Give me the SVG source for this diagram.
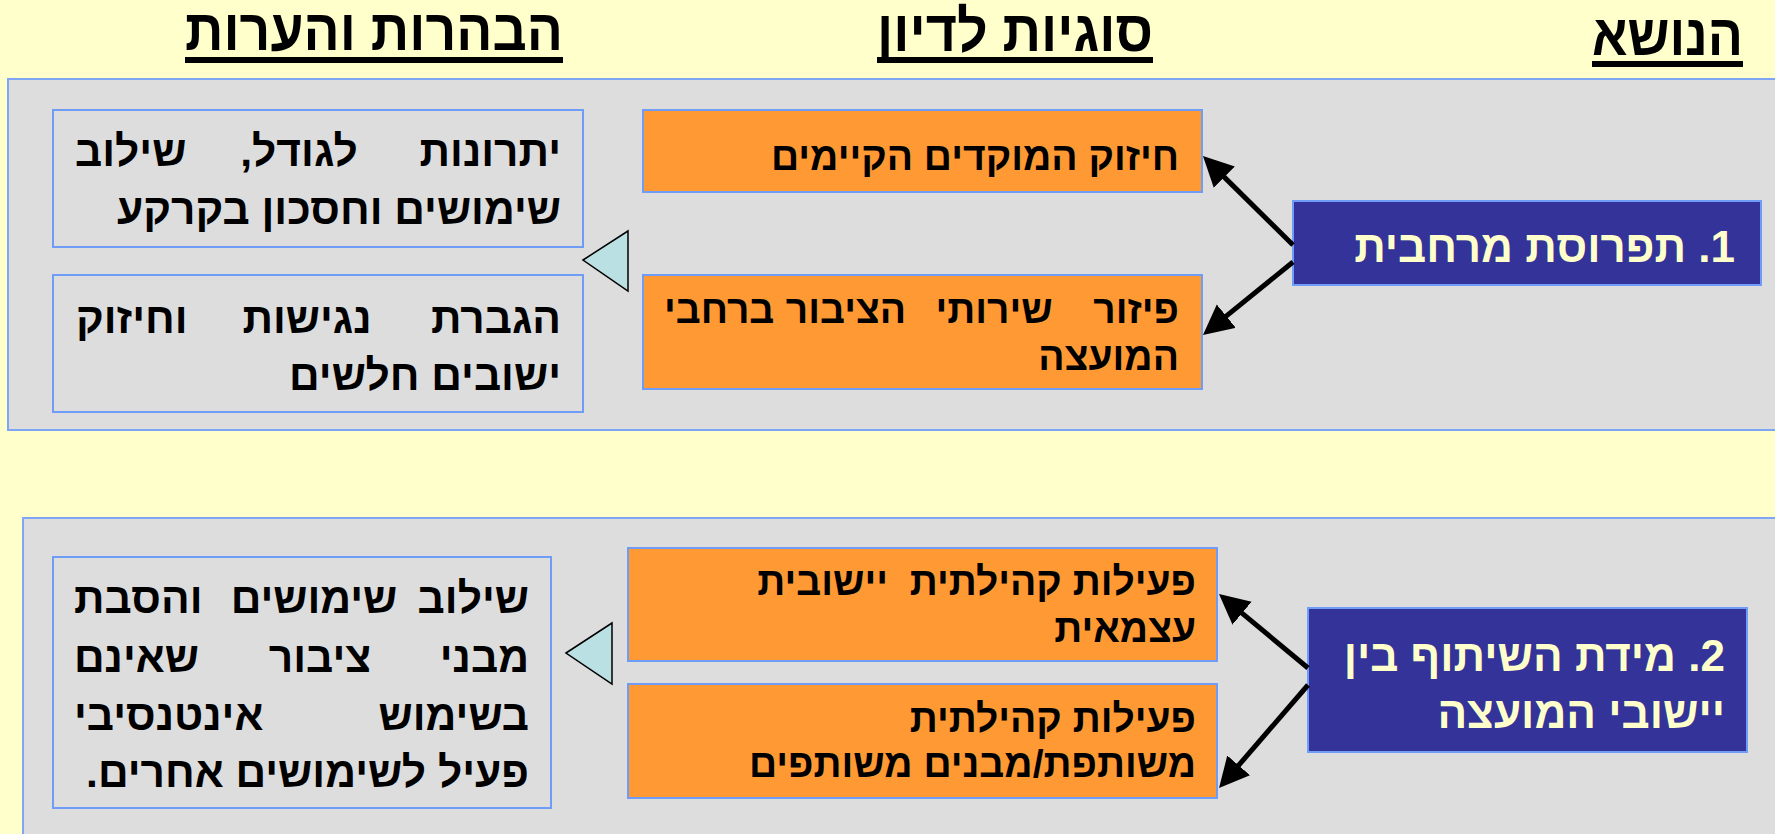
<svg xmlns="http://www.w3.org/2000/svg" width="1775" height="834" viewBox="0 0 1775 834">
<defs>
<style>
.bg{fill:#FFFFCC}
.panel{fill:#DDDDDD;stroke:#7FA6F5;stroke-width:2}
.note{fill:#DDDDDD;stroke:#6E9CF7;stroke-width:2}
.orange{fill:#FF9933;stroke:#6E9CF7;stroke-width:2}
.blue{fill:#333399;stroke:#6E9CF7;stroke-width:2}
.tri{fill:#BAE0E4;stroke:#000;stroke-width:1.5}
text{font-family:"Liberation Sans",Arial,"DejaVu Sans",sans-serif;font-weight:bold;direction:rtl;white-space:pre}
.t{font-size:42.5px;fill:#000}
.o{font-size:39px;fill:#000}
.w{font-size:44px;fill:#FFFFCC}
.h{font-size:58px;fill:#000}
.r{text-anchor:start}
.l{text-anchor:end}
.m{text-anchor:middle}
.conn line{stroke:#000;stroke-width:5}
</style>
<marker id="ah" markerUnits="userSpaceOnUse" markerWidth="32" markerHeight="32" refX="10" refY="15" orient="auto">
<path d="M0,0 L30,15 L0,30 Z" fill="#000"/>
</marker>
</defs>
<rect class="bg" x="0" y="0" width="1775" height="834"/>

<g id="headers">
<text class="h r" x="563" y="50" direction="rtl" textLength="378" lengthAdjust="spacingAndGlyphs">הבהרות והערות</text>
<rect x="185" y="57" width="378" height="6" fill="#000"/>
<text class="h r" x="1153" y="51" direction="rtl" textLength="276" lengthAdjust="spacingAndGlyphs">סוגיות לדיון</text>
<rect x="877" y="57" width="276" height="6" fill="#000"/>
<text class="h r" x="1743" y="55" direction="rtl" textLength="151" lengthAdjust="spacingAndGlyphs">הנושא</text>
<rect x="1592" y="61" width="151" height="6" fill="#000"/>
</g>

<rect id="panel1" class="panel" x="8" y="79" width="1790" height="351"/>
<rect id="panel2" class="panel" x="23" y="518" width="1775" height="340"/>

<g id="note1a">
<rect class="note" x="53" y="110" width="530" height="137"/>
<text class="t r" x="561" y="166" direction="rtl">יתרונות</text>
<text class="t m" x="299" y="166" direction="rtl">לגודל,</text>
<text class="t l" x="75" y="166" direction="rtl">שילוב</text>
<text class="t r" x="561" y="224" direction="rtl">שימושים וחסכון בקרקע</text>
</g>
<g id="note1b">
<rect class="note" x="53" y="275" width="530" height="137"/>
<text class="t r" x="561" y="333" direction="rtl">הגברת</text>
<text class="t m" x="307" y="333" direction="rtl">נגישות</text>
<text class="t l" x="76" y="333" direction="rtl">וחיזוק</text>
<text class="t r" x="561" y="390" direction="rtl">ישובים חלשים</text>
</g>
<g id="tri1"><polygon class="tri" points="583,260 628,231 628,291"/></g>
<g id="issue1a">
<rect class="orange" x="643" y="110" width="559" height="82"/>
<text class="o r" x="1179" y="170" direction="rtl">חיזוק המוקדים הקיימים</text>
</g>
<g id="issue1b">
<rect class="orange" x="643" y="275" width="559" height="114"/>
<text class="o r" x="1179" y="323" direction="rtl">פיזור</text>
<text class="o m" x="994" y="323" direction="rtl">שירותי</text>
<text class="o m" x="846" y="323" direction="rtl">הציבור</text>
<text class="o l" x="664" y="323" direction="rtl">ברחבי</text>
<text class="o r" x="1179" y="370" direction="rtl">המועצה</text>
</g>
<g id="topic1">
<rect class="blue" x="1293" y="201" width="468" height="84"/>
<text class="w r" x="1735" y="262" direction="rtl">1. תפרוסת מרחבית</text>
</g>

<g id="note2">
<rect class="note" x="53" y="557" width="498" height="251"/>
<text class="t r" x="529" y="613" direction="rtl">שילוב</text>
<text class="t m" x="314" y="613" direction="rtl">שימושים</text>
<text class="t l" x="74" y="613" direction="rtl">והסבת</text>
<text class="t r" x="529" y="672" direction="rtl">מבני</text>
<text class="t m" x="320" y="672" direction="rtl">ציבור</text>
<text class="t l" x="74" y="672" direction="rtl">שאינם</text>
<text class="t r" x="529" y="730" direction="rtl">בשימוש</text>
<text class="t l" x="74" y="730" direction="rtl">אינטנסיבי</text>
<text class="t r" x="529" y="787" direction="rtl">פעיל לשימושים אחרים.</text>
</g>
<g id="tri2"><polygon class="tri" points="566,653 612,623 612,684"/></g>
<g id="issue2a">
<rect class="orange" x="628" y="548" width="589" height="113"/>
<text class="o r" x="1196" y="595" direction="rtl">פעילות קהילתית  יישובית</text>
<text class="o r" x="1196" y="642" direction="rtl">עצמאית</text>
</g>
<g id="issue2b">
<rect class="orange" x="628" y="684" width="589" height="114"/>
<text class="o r" x="1196" y="732" direction="rtl">פעילות קהילתית</text>
<text class="o r" x="1196" y="777" direction="rtl">משותפת/מבנים משותפים</text>
</g>
<g id="topic2">
<rect class="blue" x="1308" y="608" width="439" height="144"/>
<text class="w r" x="1725" y="671" direction="rtl">2. מידת השיתוף בין</text>
<text class="w r" x="1725" y="728" direction="rtl">יישובי המועצה</text>
</g>

<g id="connectors" class="conn">
<line x1="1293" y1="245" x2="1217.2" y2="170.1" marker-end="url(#ah)"/>
<line x1="1293" y1="262" x2="1218.5" y2="322.4" marker-end="url(#ah)"/>
<line x1="1308" y1="668" x2="1234.4" y2="606.8" marker-end="url(#ah)"/>
<line x1="1308" y1="685" x2="1232.1" y2="772.9" marker-end="url(#ah)"/>
</g>
</svg>
